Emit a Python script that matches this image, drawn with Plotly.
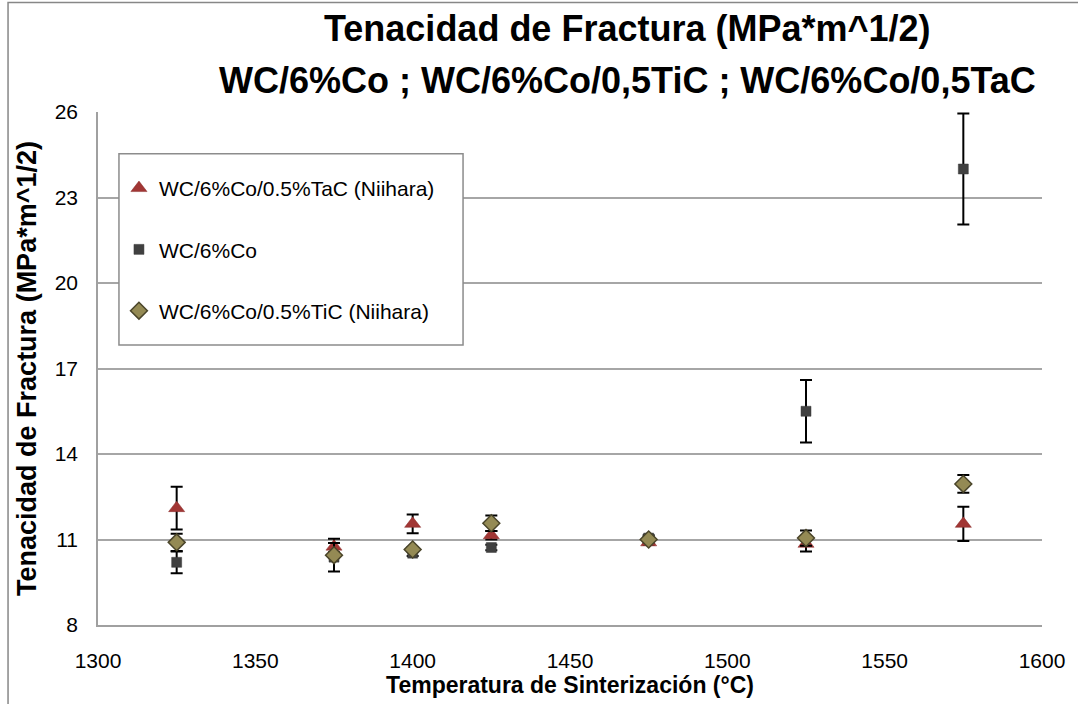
import plotly.graph_objects as go

# ---------------- data ----------------
temps = [1325, 1375, 1400, 1425, 1475, 1525, 1575]

tac_vals = [12.1, 10.75, 11.55, 11.15, 10.9, 10.85, 11.55]
tac_err = [0.75, 0.28, 0.33, 0.15, 0.08, 0.27, 0.6]

wc_vals = [10.2, 10.38, 10.52, 10.72, 11.05, 15.5, 24.0]
wc_err = [0.38, 0.5, 0.1, 0.1, 0.1, 1.1, 1.95]

tic_vals = [10.9, 10.45, 10.65, 11.57, 11.0, 11.05, 12.95]
tic_err = [0.3, 0.1, 0.08, 0.27, 0.1, 0.27, 0.31]

names = ["WC/6%Co/0.5%TaC (Niihara)", "WC/6%Co", "WC/6%Co/0.5%TiC (Niihara)"]
title_lines = ["Tenacidad de Fractura (MPa*m^1/2)",
               "WC/6%Co ; WC/6%Co/0,5TiC ; WC/6%Co/0,5TaC"]
x_title = "Temperatura de Sinterización (°C)"
y_title = "Tenacidad de Fractura (MPa*m^1/2)"
y_ticks = [8, 11, 14, 17, 20, 23, 26]
x_ticks = [1300, 1350, 1400, 1450, 1500, 1550, 1600]

FONT = "Liberation Sans, Arial, sans-serif"

def err(vals):
    return dict(type="data", array=vals, visible=True, color="black",
                thickness=2, width=6)

fig = go.Figure()
fig.add_trace(go.Scatter(
    x=temps, y=tac_vals, mode="markers", name=names[0], legendgroup="a",
    error_y=err(tac_err),
    marker=dict(symbol="triangle-up", size=14, color="#A13634",
                line=dict(color="#8A2C2A", width=0.5))))
fig.add_trace(go.Scatter(
    x=temps, y=wc_vals, mode="markers", name=names[1], legendgroup="b",
    error_y=err(wc_err),
    marker=dict(symbol="square", size=10, color="#404040",
                line=dict(color="#3A3A3A", width=0.5))))
fig.add_trace(go.Scatter(
    x=temps, y=tic_vals, mode="markers", name=names[2], legendgroup="c",
    error_y=err(tic_err),
    marker=dict(symbol="diamond", size=13, color="#948A54",
                line=dict(color="#4A452A", width=1.5))))

fig.update_layout(
    width=1078, height=704, autosize=False,
    margin=dict(l=98, r=36, t=112, b=77),
    paper_bgcolor="white", plot_bgcolor="white",
    font=dict(family=FONT, color="black"),
    showlegend=True,
    legend=dict(x=0.0222, y=0.891, xanchor="left", yanchor="top",
                bgcolor="rgba(0,0,0,0)", borderwidth=0,
                font=dict(size=21, color="black", family=FONT),
                tracegroupgap=31, traceorder="grouped"),
    xaxis=dict(range=[1300, 1600], tickmode="array", tickvals=x_ticks,
               showgrid=False, zeroline=False,
               showline=True, linecolor="#A0A0A0", linewidth=1.5,
               ticks="outside", ticklen=16, tickcolor="rgba(0,0,0,0)",
               tickfont=dict(size=21, color="black", family=FONT),
               title=dict(text="<b>" + x_title + "</b>", standoff=4,
                          font=dict(size=23, color="black", family=FONT))),
    yaxis=dict(range=[8, 26], tickmode="array", tickvals=y_ticks,
               showgrid=True, gridcolor="#A6A6A6", gridwidth=1.5,
               zeroline=False,
               showline=True, linecolor="#A0A0A0", linewidth=1.5,
               ticks="outside", ticklen=14, tickcolor="rgba(0,0,0,0)",
               tickfont=dict(size=21, color="black", family=FONT),
               title=dict(text="<b>" + y_title + "</b>", standoff=10,
                          font=dict(size=27, color="black", family=FONT))),
    shapes=[
        # outer chart border
        dict(type="rect", xref="paper", yref="paper",
             x0=-0.0953, x1=1.2, y0=-0.4, y1=1.2136,
             line=dict(color="#878787", width=1.5), fillcolor="rgba(0,0,0,0)",
             layer="below"),
        # legend box
        dict(type="rect", xref="paper", yref="paper",
             x0=0.0222, x1=0.3867, y0=0.5456, y1=0.9184,
             line=dict(color="#8C8C8C", width=1.5), fillcolor="white",
             layer="above"),
    ],
    annotations=[
        dict(text="<b>" + title_lines[0] + "</b>", xref="paper", yref="paper",
             x=0.561, y=1.163, xanchor="center", yanchor="middle",
             showarrow=False, font=dict(size=36, color="black", family=FONT)),
        dict(text="<b>" + title_lines[1] + "</b>", xref="paper", yref="paper",
             x=0.561, y=1.062, xanchor="center", yanchor="middle",
             showarrow=False, font=dict(size=36, color="black", family=FONT)),
    ],
)

fig.write_html("out.html", config={"displayModeBar": False},
               post_script="document.body.style.margin='0';")
